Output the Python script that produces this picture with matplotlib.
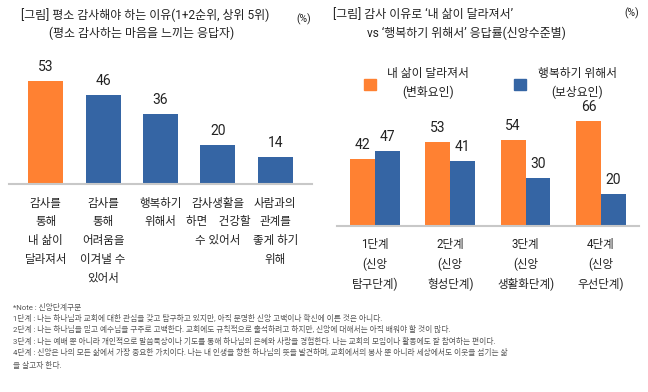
import matplotlib
matplotlib.use("Agg")
import matplotlib.pyplot as plt
from matplotlib.patches import Patch
import numpy as np

plt.rcParams['font.family'] = ['Roboto', 'Noto Sans CJK KR', 'DejaVu Sans']

# left chart data
reasons = ['감사를\n통해\n내 삶이\n달라져서',
           '감사를\n통해\n어려움을\n이겨낼 수\n있어서',
           '행복하기\n위해서',
           '감사생활을\n하면    건강할\n수 있어서',
           '사람과의\n관계를\n좋게 하기\n위해']
reason_vals = [53, 46, 36, 20, 14]

# right chart data
stages = ['1단계\n(신앙\n탐구단계)', '2단계\n(신앙\n형성단계)',
          '3단계\n(신앙\n생활화단계)', '4단계\n(신앙\n우선단계)']
change_vals = [42, 53, 54, 66]
happy_vals = [47, 41, 30, 20]
series_names = ['내 삶이 달라져서\n(변화요인)', '행복하기 위해서\n(보상요인)']

notes = ['*Note : 신앙단계구분',
         '1단계 : 나는 하나님과 교회에 대한 관심을 갖고 탐구하고 있지만, 아직 분명한 신앙 고백이나 확신에 이른 것은 아니다.',
         '2단계 : 나는 하나님을 믿고 예수님을 구주로 고백한다. 교회에도 규칙적으로 출석하려고 하지만, 신앙에 대해서는 아직 배워야 할 것이 많다.',
         '3단계 : 나는 예배 뿐 아니라 개인적으로 말씀묵상이나 기도를 통해 하나님의 은혜와 사랑을 경험한다. 나는 교회의 모임이나 활동에도 잘 참여하는 편이다.',
         '4단계 : 신앙은 나의 모든 삶에서 가장 중요한 가치이다. 나는 내 인생을 향한 하나님의 뜻을 발견하며, 교회에서의 봉사 뿐 아니라 세상에서도 이웃을 섬기는 삶\n을 살고자 한다.']

ORANGE = '#FF8132'
BLUE = '#3565A4'
TXT = '#222222'
LINE = '#C8C8C8'

fig = plt.figure(figsize=(6.48, 3.92), dpi=100)

def style(ax):
    for s in ['top', 'right', 'left']:
        ax.spines[s].set_visible(False)
    ax.spines['bottom'].set_color(LINE)
    ax.spines['bottom'].set_linewidth(1.5)
    ax.set_yticks([])
    ax.tick_params(axis='x', length=0, pad=9, labelsize=8.3, labelcolor=TXT)

# ---- left chart
ax1 = fig.add_axes([0.0139, 0.5306, 0.4676, 0.297])
x1 = np.arange(len(reasons))
colors = [ORANGE] + [BLUE] * (len(reasons) - 1)
bars = ax1.bar(x1, reason_vals, width=0.61, color=colors)
for b, v in zip(bars, reason_vals):
    ax1.text(b.get_x() + b.get_width() / 2, v + 3.5, str(v), ha='center', va='bottom',
             fontsize=10, color=TXT)
ax1.set_xlim(-0.64, 4.64)
ax1.set_ylim(0, 60)
ax1.set_xticks(x1)
ax1.set_xticklabels(reasons, linespacing=1.58, va='top')
style(ax1)

# ---- right chart
ax2 = fig.add_axes([0.520, 0.4235, 0.466, 0.284])
x2 = np.arange(len(stages))
w = 0.33
b1 = ax2.bar(x2 - w / 2, change_vals, width=w, color=ORANGE)
b2 = ax2.bar(x2 + w / 2, happy_vals, width=w, color=BLUE)
for bs, vals in [(b1, change_vals), (b2, happy_vals)]:
    for b, v in zip(bs, vals):
        ax2.text(b.get_x() + b.get_width() / 2, v + 4.5, str(v), ha='center', va='bottom',
                 fontsize=10, color=TXT)
ax2.set_xlim(-0.505, 3.505)
ax2.set_ylim(0, 70)
ax2.set_xticks(x2)
ax2.set_xticklabels(stages, linespacing=1.63, va='top')
style(ax2)

handles = [Patch(color=ORANGE), Patch(color=BLUE)]
leg = fig.legend(handles, series_names, loc='upper left', bbox_to_anchor=(0.545, 0.855),
                 ncol=2, frameon=False, fontsize=8.5, handlelength=1.0, handleheight=1.0,
                 handletextpad=1.0, columnspacing=3.8, labelspacing=0.3)
for t in leg.get_texts():
    t.set_multialignment('center')
    t.set_linespacing(1.5)
    t.set_color(TXT)

# ---- titles
fig.text(0.224, 0.962, '[그림] 평소 감사해야 하는 이유(1+2순위, 상위 5위)', ha='center', va='center',
         fontsize=8.6, color=TXT)
fig.text(0.218, 0.916, '(평소 감사하는 마음을 느끼는 응답자)', ha='center', va='center',
         fontsize=8.6, color=TXT)
fig.text(0.468, 0.950, '(%)', ha='center', va='center', fontsize=7.5, color=TXT)

fig.text(0.514, 0.962, '[그림] 감사 이유로 ‘내 삶이 달라져서’', ha='left', va='center',
         fontsize=8.6, color=TXT)
fig.text(0.566, 0.916, 'vs ‘행복하기 위해서’ 응답률(신앙수준별)', ha='left', va='center',
         fontsize=8.6, color=TXT)
fig.text(0.975, 0.967, '(%)', ha='center', va='center', fontsize=7.5, color=TXT)

# ---- notes
y = 0.228
for n in notes:
    fig.text(0.02, y, n, ha='left', va='top', fontsize=5.6, color='#555555', linespacing=1.7)
    y -= 0.029 * (n.count('\n') + 1)

fig.savefig('out.png', dpi=100, facecolor='white')
